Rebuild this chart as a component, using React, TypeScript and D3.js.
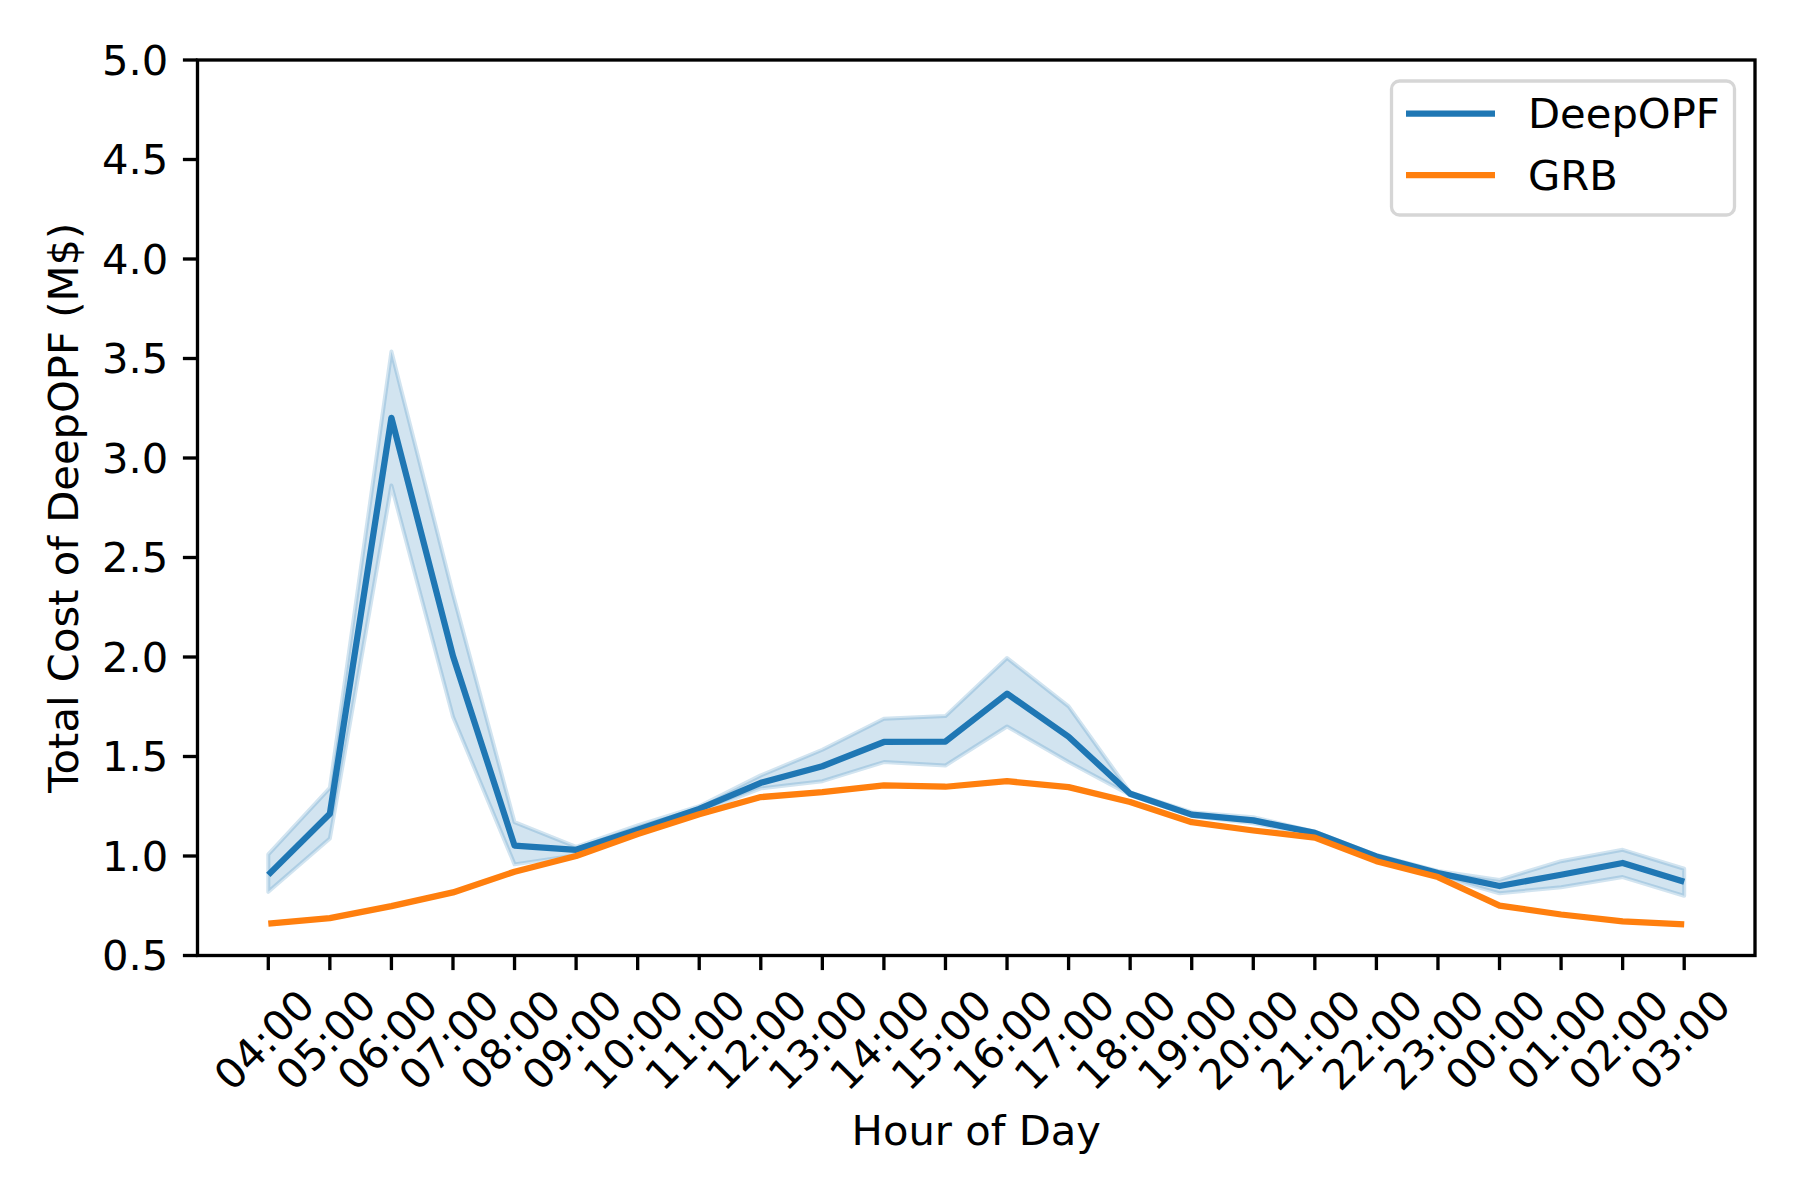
import React from "react";
import * as d3 from "d3";

const hours = [
  "04:00", "05:00", "06:00", "07:00", "08:00", "09:00", "10:00", "11:00",
  "12:00", "13:00", "14:00", "15:00", "16:00", "17:00", "18:00", "19:00",
  "20:00", "21:00", "22:00", "23:00", "00:00", "01:00", "02:00", "03:00",
];

// mean DeepOPF cost per hour (M$)
const deepOpf = [
  0.905, 1.212, 3.202, 2.005, 1.052, 1.031, 1.132, 1.237,
  1.368, 1.451, 1.573, 1.575, 1.816, 1.599, 1.313, 1.208,
  1.179, 1.116, 0.998, 0.914, 0.849, 0.906, 0.965, 0.871,
];
// confidence band
const deepOpfHigh = [
  1.008, 1.342, 3.535, 2.317, 1.170, 1.046, 1.154, 1.250,
  1.405, 1.534, 1.690, 1.703, 1.995, 1.752, 1.320, 1.220,
  1.195, 1.122, 1.005, 0.925, 0.880, 0.974, 1.031, 0.936,
];
const deepOpfLow = [
  0.820, 1.088, 2.862, 1.700, 0.958, 1.004, 1.112, 1.220,
  1.340, 1.376, 1.472, 1.455, 1.651, 1.472, 1.306, 1.200,
  1.165, 1.105, 0.990, 0.900, 0.813, 0.843, 0.894, 0.800,
];
const grb = [
  0.660, 0.688, 0.748, 0.817, 0.921, 1.000, 1.110, 1.210,
  1.296, 1.321, 1.355, 1.348, 1.376, 1.346, 1.271, 1.170,
  1.128, 1.092, 0.974, 0.894, 0.751, 0.706, 0.671, 0.656,
];

const yTicks = [0.5, 1.0, 1.5, 2.0, 2.5, 3.0, 3.5, 4.0, 4.5, 5.0];

const BLUE = "#1f77b4";
const ORANGE = "#ff7f0e";
const FONT = "DejaVu Sans, sans-serif";
const FS = 41.7;

export default function App() {
  const W = 1800, H = 1200;
  const left = 197.5, right = 1755, top = 60, bottom = 955.5;
  const n = hours.length - 1;

  const x = d3.scaleLinear().domain([-0.05 * n, n * 1.05]).range([left, right]);
  const y = d3.scaleLinear().domain([0.5, 5]).range([bottom, top]);

  const line = d3.line<number>().x((_, i) => x(i)).y(d => y(d));
  const band = d3
    .area<number>()
    .x((_, i) => x(i))
    .y0((_, i) => y(deepOpfLow[i]))
    .y1(d => y(d));

  const tickLen = 14.6;
  const pad = 14.6;

  return (
    <svg
      width={W}
      height={H}
      style={{ position: "absolute", left: 0, top: 0, background: "#fff" }}
      fontFamily={FONT}
    >
      <rect width={W} height={H} fill="#fff" />

      {/* band + lines */}
      <path
        d={band(deepOpfHigh) || ""}
        fill={BLUE}
        fillOpacity={0.2}
        stroke={BLUE}
        strokeOpacity={0.2}
        strokeWidth={4}
        strokeLinejoin="round"
      />
      <path d={line(deepOpf) || ""} fill="none" stroke={BLUE} strokeWidth={6.25} strokeLinejoin="round" />
      <path d={line(grb) || ""} fill="none" stroke={ORANGE} strokeWidth={6.25} strokeLinejoin="round" />

      {/* spines */}
      <rect x={left} y={top} width={right - left} height={bottom - top} fill="none" stroke="#000" strokeWidth={3.33} />

      {/* y axis */}
      {yTicks.map(t => (
        <g key={`y${t}`}>
          <line x1={left - tickLen} x2={left} y1={y(t)} y2={y(t)} stroke="#000" strokeWidth={3.33} />
          <text
            x={left - tickLen - pad}
            y={y(t)}
            textAnchor="end"
            dominantBaseline="central"
            fontSize={FS}
          >
            {t.toFixed(1)}
          </text>
        </g>
      ))}
      <text
        transform={`translate(63,${(top + bottom) / 2}) rotate(-90)`}
        textAnchor="middle"
        dominantBaseline="central"
        fontSize={FS}
      >
        Total Cost of DeepOPF (M$)
      </text>

      {/* x axis */}
      {hours.map((h, i) => (
        <g key={`x${h}`}>
          <line x1={x(i)} x2={x(i)} y1={bottom} y2={bottom + tickLen} stroke="#000" strokeWidth={3.33} />
          <text
            transform={`translate(${x(i) - 4},${1040}) rotate(-45)`}
            textAnchor="middle"
            dominantBaseline="central"
            fontSize={FS}
          >
            {h}
          </text>
        </g>
      ))}
      <text x={(left + right) / 2} y={1145} textAnchor="middle" fontSize={FS}>
        Hour of Day
      </text>

      {/* legend */}
      <rect
        x={1391.5}
        y={81}
        width={343}
        height={134}
        rx={8}
        fill="#fff"
        fillOpacity={0.8}
        stroke="#d6d6d6"
        strokeWidth={3.3}
      />
      {[
        { name: "DeepOPF", color: BLUE, cy: 113.5 },
        { name: "GRB", color: ORANGE, cy: 175 },
      ].map(e => (
        <g key={e.name}>
          <line x1={1406} x2={1495} y1={e.cy} y2={e.cy} stroke={e.color} strokeWidth={6.25} />
          <text x={1528} y={e.cy} dominantBaseline="central" fontSize={FS}>
            {e.name}
          </text>
        </g>
      ))}
    </svg>
  );
}
